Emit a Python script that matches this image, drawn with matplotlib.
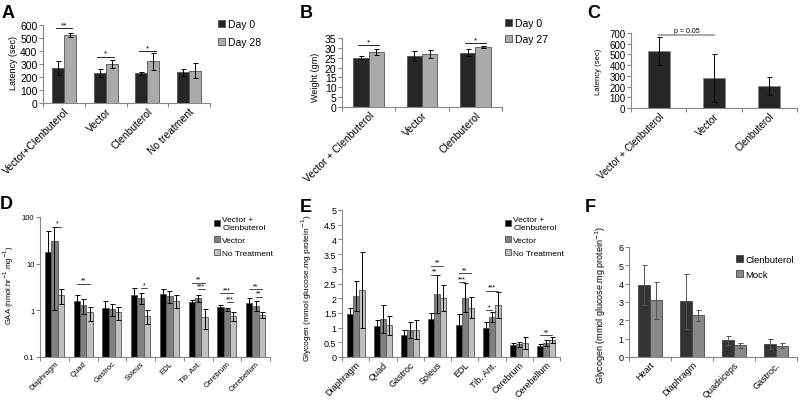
import numpy as np
import matplotlib
matplotlib.use('Agg')
import matplotlib.pyplot as plt
from matplotlib.ticker import FixedLocator, NullFormatter

plt.rcParams['font.family'] = ['Liberation Sans', 'DejaVu Sans']

W, H = 800, 406

# ---------------- data ----------------
# A: latency, day 0 vs day 28
a_groups = ['Vector+Clenbuterol', 'Vector', 'Clenbuterol', 'No treatment']
a_day0 = [270, 230, 230, 235]
a_day0_err = [55, 30, 12, 25]
a_day28 = [520, 300, 320, 250]
a_day28_err = [15, 32, 65, 60]
a_sig = [(0, '**', 575), (1, '*', 355), (2, '*', 400)]

# B: weight, day 0 vs day 27
b_groups = ['Vector + Clenbuterol', 'Vector', 'Clenbuterol']
b_day0 = [25.0, 25.8, 27.6]
b_day0_err = [0.8, 2.6, 1.8]
b_day27 = [27.8, 26.9, 30.5]
b_day27_err = [1.6, 2.0, 0.6]
b_sig = [(0, '*', 31.5), (2, '*', 32.5)]

# C: latency
c_groups = ['Vector + Clenbuterol', 'Vector', 'Clenbuterol']
c_vals = [530, 280, 205]
c_err = [130, 220, 85]

# D: GAA activity (log)
d_groups = ['Diaphragm', 'Quad', 'Gastroc', 'Soleus', 'EDL', 'Tib. Ant.', 'Cerebrum', 'Cerebellum']
d_series = ['Vector +\nClenbuterol', 'Vector', 'No Treatment']
d_vc = [18, 1.55, 1.15, 2.1, 2.2, 1.5, 1.2, 1.45]
d_vc_err = [32, 0.55, 0.4, 0.9, 0.6, 0.15, 0.12, 0.4]
d_vec = [31, 1.3, 1.05, 1.85, 2.05, 1.8, 1.05, 1.25]
d_vec_err = [30, 0.45, 0.3, 0.5, 0.6, 0.3, 0.1, 0.3]
d_nt = [2.1, 0.9, 0.9, 0.75, 1.6, 0.72, 0.75, 0.8]
d_nt_err = [0.7, 0.3, 0.28, 0.25, 0.5, 0.33, 0.15, 0.12]
# (group, from bar, to bar, y, label)
d_sig = [(0, 1, 2, 62, '*'), (1, 0, 2, 3.7, '**'), (3, 1, 2, 3.0, '*'),
         (5, 0, 2, 3.9, '**'), (5, 1, 2, 2.8, '***'),
         (6, 0, 2, 2.3, '***'), (6, 1, 2, 1.5, '***'),
         (7, 0, 2, 2.8, '**'), (7, 1, 2, 1.95, '**')]

# E: glycogen
e_groups = d_groups
e_vc = [1.47, 1.05, 0.75, 1.28, 1.1, 0.97, 0.41, 0.37]
e_vc_err = [0.2, 0.2, 0.17, 0.22, 0.35, 0.23, 0.07, 0.08]
e_vec = [2.07, 1.28, 0.93, 2.15, 2.02, 1.37, 0.43, 0.47]
e_vec_err = [0.5, 0.48, 0.27, 0.65, 0.5, 0.17, 0.08, 0.1]
e_nt = [2.27, 1.08, 0.93, 2.0, 1.68, 1.77, 0.48, 0.58]
e_nt_err = [1.3, 0.32, 0.33, 0.45, 0.37, 0.45, 0.2, 0.1]
e_sig = [(3, 0, 2, 3.1, '**'), (3, 0, 1, 2.8, '**'),
         (4, 0, 2, 2.85, '**'), (4, 0, 1, 2.55, '***'),
         (5, 0, 1, 1.6, '*'), (5, 0, 2, 2.25, '***'),
         (7, 0, 2, 0.75, '**')]

# F: glycogen, clenbuterol vs mock
f_groups = ['Heart', 'Diaphragm', 'Quadriceps', 'Gastroc.']
f_clen = [3.93, 3.03, 0.92, 0.72]
f_clen_err = [1.07, 1.52, 0.25, 0.28]
f_mock = [3.1, 2.28, 0.63, 0.62]
f_mock_err = [1.0, 0.3, 0.13, 0.15]


def rect(x0, y0, x1, y1):
    return [x0 / W, 1 - y1 / H, (x1 - x0) / W, (y1 - y0) / H]


def style(ax, n, fs):
    for s in ['top', 'right']:
        ax.spines[s].set_visible(False)
    for s in ['left', 'bottom']:
        ax.spines[s].set_color('#888888')
        ax.spines[s].set_linewidth(0.8)
    ax.set_xlim(-0.5, n - 0.5)
    ax.set_xticks(np.arange(n))
    ax.xaxis.set_minor_locator(FixedLocator(np.arange(n + 1) - 0.5))
    ax.xaxis.set_minor_formatter(NullFormatter())
    ax.tick_params(axis='x', which='major', length=0, labelsize=fs, pad=2)
    ax.tick_params(axis='x', which='minor', length=3, color='#888888', width=0.8)
    ax.tick_params(axis='y', length=3, color='#888888', width=0.8, labelsize=fs, pad=1)
    ax.tick_params(axis='y', which='minor', length=0)


def bars(ax, series, errs, colors, width, edge='#555555', ecol='black'):
    k = len(series)
    x = np.arange(len(series[0]))
    offs = (np.arange(k) - (k - 1) / 2) * width
    for vals, err, col, o in zip(series, errs, colors, offs):
        ax.bar(x + o, vals, width, color=col, edgecolor=edge, linewidth=0.6, zorder=2)
        ax.errorbar(x + o, vals, yerr=err, fmt='none', ecolor=ecol, elinewidth=0.7,
                    capsize=1.8, capthick=0.7, zorder=3)
    return offs


def xlabels(ax, labels, fs):
    ax.set_xticklabels(labels, rotation=45, ha='right', rotation_mode='anchor', fontsize=fs)


def legend(ax, handles, labels, x, y, fs, spacing):
    ax.legend(handles, labels, loc='upper left', bbox_to_anchor=(x / W, 1 - y / H),
              bbox_transform=ax.figure.transFigure, frameon=False, fontsize=fs,
              handlelength=0.7, handleheight=0.7, handletextpad=0.3,
              labelspacing=spacing, borderaxespad=0, borderpad=0)


fig = plt.figure(figsize=(8, 4.06), dpi=100)

# ---------------- A ----------------
ax = fig.add_axes(rect(43, 26, 210, 104))
w = 0.286
offs = bars(ax, [a_day0, a_day28], [a_day0_err, a_day28_err], ['#262626', '#aaaaaa'], w)
style(ax, 4, 7.5)
ax.set_ylim(0, 600)
ax.set_yticks(range(0, 601, 100))
xlabels(ax, a_groups, 7.5)
for g, t, y in a_sig:
    ax.plot([g - 0.2, g + 0.2], [y, y], color='black', lw=0.6)
    ax.text(g, y, t, ha='center', va='bottom', fontsize=6)
h = ax.containers
legend(ax, [h[0], h[2]], ['Day 0', 'Day 28'], 218, 20, 7.5, 0.75)
fig.text(13 / W, 1 - 63 / H, 'Latency (sec)', rotation=90, ha='center', va='center', fontsize=6.5)
fig.text(2 / W, 1 - 5 / H, 'A', fontsize=13, fontweight='bold', va='top')

# ---------------- B ----------------
ax = fig.add_axes(rect(342, 39, 502, 108))
bars(ax, [b_day0, b_day27], [b_day0_err, b_day27_err], ['#262626', '#aaaaaa'], w)
style(ax, 3, 7.5)
ax.set_ylim(0, 35)
ax.set_yticks(range(0, 36, 5))
xlabels(ax, b_groups, 7.5)
for g, t, y in b_sig:
    ax.plot([g - 0.2, g + 0.2], [y, y], color='black', lw=0.6)
    ax.text(g, y, t, ha='center', va='bottom', fontsize=6)
h = ax.containers
legend(ax, [h[0], h[2]], ['Day 0', 'Day 27'], 505, 19, 7.5, 0.6)
fig.text(316 / W, 1 - 77 / H, 'Weight (gm)', rotation=90, ha='center', va='center', fontsize=6.5)
fig.text(300 / W, 1 - 5 / H, 'B', fontsize=13, fontweight='bold', va='top')

# ---------------- C ----------------
ax = fig.add_axes(rect(631, 34, 797, 109))
bars(ax, [c_vals], [c_err], ['#262626'], 0.4, edge='#888888')
style(ax, 3, 7)
ax.set_ylim(0, 700)
ax.set_yticks(range(0, 701, 100))
xlabels(ax, c_groups, 7)
ax.plot([0, 1], [680, 680], color='#999999', lw=1.2, zorder=4)
ax.text(0.5, 695, 'p = 0.05', ha='center', va='bottom', fontsize=5)
fig.text(599 / W, 1 - 72 / H, 'Latency (sec)', rotation=90, ha='center', va='center', fontsize=5.5)
fig.text(587 / W, 1 - 5 / H, 'C', fontsize=13, fontweight='bold', va='top')

# ---------------- D ----------------
ax = fig.add_axes(rect(40, 218, 270, 358))
w3 = 0.222
offs = bars(ax, [d_vc, d_vec, d_nt], [d_vc_err, d_vec_err, d_nt_err],
            ['#000000', '#808080', '#c0c0c0'], w3)
ax.set_yscale('log')
style(ax, 8, 5.5)
ax.set_ylim(0.1, 100)
ax.yaxis.set_major_locator(FixedLocator([0.1, 1, 10, 100]))
ax.set_yticklabels(['0.1', '1', '10', '100'])
xlabels(ax, d_groups, 5.5)
for g, i, j, y, t in d_sig:
    ax.plot([g + offs[i], g + offs[j]], [y, y], color='black', lw=0.5)
    ax.text((2 * g + offs[i] + offs[j]) / 2, y, t, ha='center', va='bottom', fontsize=5)
h = ax.containers
legend(ax, [h[0], h[2], h[4]], d_series, 214, 217, 6, 0.6)
fig.text(9 / W, 1 - 285 / H, 'GAA (nmol.hr$^{-1}$.mg$^{-1}$)', rotation=90, ha='center',
         va='center', fontsize=5.5)
fig.text(0 / W, 1 - 196 / H, 'D', fontsize=13, fontweight='bold', va='top')

# ---------------- E ----------------
ax = fig.add_axes(rect(342, 211, 560, 358))
offs = bars(ax, [e_vc, e_vec, e_nt], [e_vc_err, e_vec_err, e_nt_err],
            ['#000000', '#808080', '#c0c0c0'], w3)
style(ax, 8, 6.5)
ax.set_ylim(0, 5)
ax.set_yticks(np.arange(0, 5.01, 0.5))
ax.set_yticklabels(['0', '0.5', '1', '1.5', '2', '2.5', '3', '3.5', '4', '4.5', '5'])
xlabels(ax, e_groups, 6.5)
for g, i, j, y, t in e_sig:
    ax.plot([g + offs[i], g + offs[j]], [y, y], color='black', lw=0.5)
    ax.text((2 * g + offs[i] + offs[j]) / 2, y, t, ha='center', va='bottom', fontsize=5)
h = ax.containers
legend(ax, [h[0], h[2], h[4]], d_series, 505, 217, 6, 0.6)
fig.text(307 / W, 1 - 288 / H, 'Glycogen (mmol glucose.mg protein$^{-1}$)', rotation=90,
         ha='center', va='center', fontsize=6)
fig.text(300 / W, 1 - 199 / H, 'E', fontsize=13, fontweight='bold', va='top')

# ---------------- F ----------------
ax = fig.add_axes(rect(629, 248, 797, 358))
bars(ax, [f_clen, f_mock], [f_clen_err, f_mock_err], ['#333333', '#888888'], 0.29,
     edge='#444444', ecol='#555555')
style(ax, 4, 6.5)
ax.set_ylim(0, 6)
ax.set_yticks(range(0, 7))
xlabels(ax, f_groups, 6.5)
h = ax.containers
legend(ax, [h[0], h[2]], ['Clenbuterol', 'Mock'], 736, 256, 6.8, 0.6)
fig.text(601 / W, 1 - 305 / H, 'Glycogen (mmol glucose.mg protein$^{-1}$)', rotation=90,
         ha='center', va='center', fontsize=6.5)
fig.text(585 / W, 1 - 199 / H, 'F', fontsize=13, fontweight='bold', va='top')

fig.savefig('out.png', dpi=100)
